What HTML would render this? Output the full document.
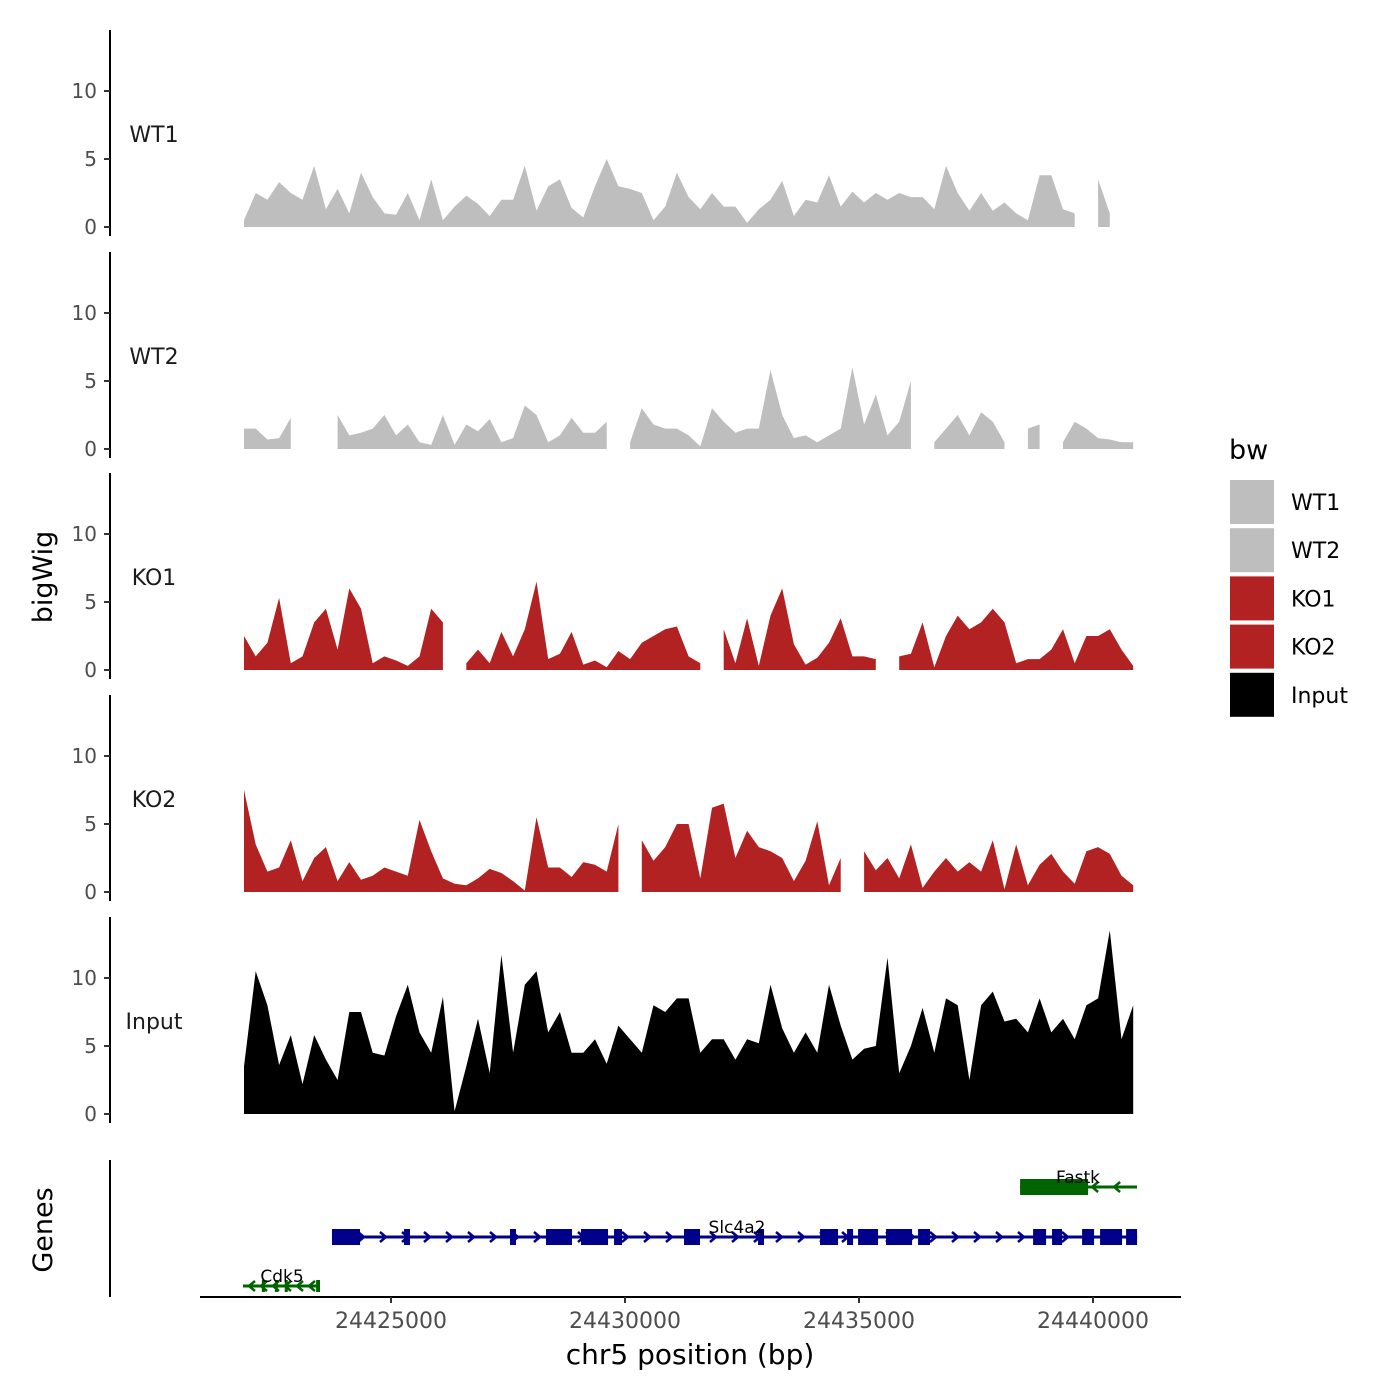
<!DOCTYPE html>
<html><head><meta charset="utf-8"><style>
html,body{margin:0;padding:0;background:#fff;}
svg{display:block;font-family:"DejaVu Sans","Liberation Sans",sans-serif;}
</style></head><body>
<svg id="chart" width="1400" height="1400" viewBox="0 0 1400 1400" xmlns="http://www.w3.org/2000/svg"></svg>
<script>
const binStart = 24421859;
const binSize = 250;
const trackNames = ["WT1","WT2","KO1","KO2","Input"];
const trackColors = ["#bebebe","#bebebe","#b22222","#b22222","#000000"];
const wt1 = [0.5,2.5,2.0,3.3,2.5,2.0,4.5,1.3,2.8,1.0,4.0,2.2,1.0,0.9,2.5,0.5,3.5,0.5,1.5,2.3,1.7,0.8,2.0,2.0,4.5,1.2,3.0,3.5,1.4,0.7,3.0,5.0,3.0,2.8,2.5,0.5,1.5,4.0,2.2,1.3,2.5,1.5,1.5,0.3,1.3,2.0,3.4,0.8,2.0,1.8,3.8,1.5,2.6,1.8,2.5,2.0,2.5,2.2,2.2,1.3,4.5,2.5,1.2,2.5,1.2,1.8,1.0,0.5,3.8,3.8,1.3,1.0,null,3.5,1.0,null,1.5];
const wt2 = [1.5,1.5,0.7,0.8,2.3,null,null,null,2.5,1.0,1.2,1.5,2.5,1.0,1.8,0.5,0.3,2.5,0.3,1.8,1.3,2.2,0.5,0.8,3.2,2.5,0.5,1.0,2.3,1.2,1.2,2.0,null,0.5,3.0,1.8,1.5,1.5,1.0,0.2,3.0,2.0,1.2,1.5,1.5,5.8,2.5,0.8,1.0,0.5,1.0,1.5,6.0,1.8,4.0,1.0,2.0,5.0,null,0.5,1.5,2.5,1.0,2.7,2.0,0.5,null,1.5,1.8,null,0.5,2.0,1.5,0.8,0.7,0.5,0.5];
const ko1 = [2.5,1.0,2.0,5.3,0.5,1.0,3.5,4.5,1.5,6.0,4.5,0.5,1.0,0.7,0.3,1.0,4.5,3.5,null,0.5,1.5,0.5,2.8,1.0,3.0,6.5,0.8,1.2,2.8,0.4,0.7,0.2,1.4,0.8,2.0,2.5,3.0,3.2,1.0,0.5,null,3.0,0.5,3.8,0.3,4.0,6.0,1.9,0.4,0.9,2.0,3.8,1.0,1.0,0.8,null,1.0,1.2,3.5,0.2,2.5,4.0,3.0,3.5,4.5,3.5,0.5,0.8,0.8,1.5,3.0,0.5,2.5,2.5,3.0,1.5,0.3];
const ko2 = [7.5,3.5,1.5,1.8,3.8,0.8,2.5,3.3,0.8,2.2,0.9,1.2,1.8,1.5,1.2,5.3,3.0,1.0,0.6,0.5,1.0,1.7,1.4,0.8,0.1,5.5,1.8,1.8,1.1,2.2,2.0,1.5,5.0,null,3.8,2.3,3.3,5.0,5.0,1.0,6.2,6.5,2.5,4.5,3.3,3.0,2.5,0.8,2.3,5.2,0.5,2.5,null,3.0,1.6,2.5,1.0,3.5,0.3,1.5,2.5,1.5,2.2,1.5,3.8,0.2,3.5,0.5,2.0,2.8,1.5,0.6,3.0,3.3,2.8,1.2,0.5];
const input = [3.5,10.5,8.0,3.6,5.8,2.2,5.8,4.0,2.5,7.5,7.5,4.5,4.3,7.2,9.5,6.0,4.5,8.6,0.2,3.5,7.0,3.0,11.7,4.5,9.5,10.5,6.0,7.5,4.5,4.5,5.5,3.7,6.5,5.5,4.5,8.0,7.5,8.5,8.5,4.5,5.5,5.5,4.0,5.5,5.2,9.5,6.3,4.5,6.0,4.5,9.5,6.5,4.0,4.8,5.0,11.5,3.0,5.0,7.8,4.5,8.5,8.0,2.5,8.0,9.0,6.8,7.0,6.0,8.5,6.0,7.0,5.5,8.0,8.5,13.5,5.5,8.0];
const trackValues = [wt1,wt2,ko1,ko2,input];
const yTicks = [0,5,10];
const xTicks = [24425000,24430000,24435000,24440000];
const geneNames = ["Fastk","Slc4a2","Cdk5"];
const geneStarts = [24438442,24423739,24421837];
const geneEnds = [24440942,24440942,24423483];
const geneStrands = [-1,1,-1];
const geneColors = ["#006400","#00008b","#006400"];
const fastkExons = [[24438442,24439895]];
const slcExons = [[24423739,24424338],[24425278,24425406],[24427543,24427671],[24428312,24428868],[24429060,24429637],[24429766,24429936],[24431261,24431603],[24432843,24432971],[24434168,24434552],[24434745,24434873],[24434980,24435407],[24435578,24436134],[24436262,24436518],[24438720,24438997],[24439125,24439339],[24439767,24440023],[24440151,24440621],[24440707,24440942]];
const cdkExons = [[24422240,24422300],[24422520,24422580],[24422730,24422790],[24423400,24423483]];
const geneExons = [fastkExons,slcExons,cdkExons];
const legendLabels = ["WT1","WT2","KO1","KO2","Input"];

const svg = document.getElementById('chart');
const NS = "http://www.w3.org/2000/svg";
function mk(tag, attrs, parent){const e=document.createElementNS(NS,tag);for(const k in attrs)e.setAttribute(k,attrs[k]);(parent||svg).appendChild(e);return e;}
function xScale(bp){return 391 + (bp-24425000)*0.0468;}
const baselines = [227,449,670,892,1114];
const ppu = 13.6;
function yScale(t,v){return baselines[t]-v*ppu;}

for(let t=0;t<5;t++){
  const g = mk('g',{});
  
  
  const ax = mk('line',{x1:110,x2:110,y1:baselines[t]-197,y2:baselines[t]+9,stroke:'#000','stroke-width':2},g);
  
  
  yTicks.forEach(v=>{
    const y=yScale(t,v);
    const tk=mk('line',{x1:104,x2:110,y1:y,y2:y,stroke:'#333','stroke-width':2},g);
    
    
    const tl=mk('text',{x:97,y:y+7,'text-anchor':'end','font-size':20,fill:'#4d4d4d'},g);
    tl.textContent=v;
    
    
  });
  const lab=mk('text',{x:154,y:baselines[t]-85,'text-anchor':'middle','font-size':22,fill:'#1a1a1a'},g);
  lab.textContent=trackNames[t];
  
  
  const vals=trackValues[t];
  let run=[];
  const flush=()=>{
    if(run.length>1){
      let d='M'+xScale(run[0][0])+','+baselines[t];
      run.forEach(p=>{d+=' L'+xScale(p[0]).toFixed(1)+','+yScale(t,p[1]).toFixed(1);});
      d+=' L'+xScale(run[run.length-1][0])+','+baselines[t]+' Z';
      const a=mk('path',{d:d,fill:trackColors[t]},g);
      
      
    }
    run=[];
  };
  vals.forEach((v,i)=>{ if(v===null){flush();} else run.push([binStart+i*binSize,v]); });
  flush();
}

const yt=mk('text',{x:0,y:0,transform:'translate(52,577) rotate(-90)','text-anchor':'middle','font-size':27,fill:'#000'});
yt.textContent='bigWig';



const gax=mk('line',{x1:110,x2:110,y1:1160,y2:1297,stroke:'#000','stroke-width':2});


const gt=mk('text',{x:0,y:0,transform:'translate(52,1230) rotate(-90)','text-anchor':'middle','font-size':27,fill:'#000'});
gt.textContent='Genes';


const geneY=[1187,1237,1286];
geneNames.forEach((n,i)=>{
  const g=mk('g',{});
  
  
  const y=geneY[i], c=geneColors[i];
  const x1=xScale(geneStarts[i]), x2=xScale(geneEnds[i]);
  const ln=mk('line',{x1:x1,x2:x2,y1:y,y2:y,stroke:c,'stroke-width':3},g);
  
  
  const step=i===2?12:22;
  for(let x=x1+8;x<x2-4;x+=step){
    const s=geneStrands[i];
    const ar=mk('polyline',{points:(x-4*s)+','+(y-5)+' '+(x+2*s)+','+y+' '+(x-4*s)+','+(y+5),fill:'none',stroke:c,'stroke-width':2.5},g);
    
    
  }
  geneExons[i].forEach(e=>{
    const h=i===2?12:16;
    const r=mk('rect',{x:xScale(e[0]),y:y-h/2,width:Math.max(3,xScale(e[1])-xScale(e[0])),height:h,fill:c},g);
    
    
  });
  const lx=i===0?1078:(i===1?737:282);
  const tl=mk('text',{x:lx,y:y-4,'text-anchor':'middle','font-size':17,fill:'#000'},g);
  tl.textContent=n;
  
  
});

const xa=mk('line',{x1:200,x2:1181,y1:1297,y2:1297,stroke:'#000','stroke-width':2});


xTicks.forEach(v=>{
  const x=xScale(v);
  const tk=mk('line',{x1:x,x2:x,y1:1297,y2:1303,stroke:'#333','stroke-width':2});
  
  
  const tl=mk('text',{x:x,y:1328,'text-anchor':'middle','font-size':22,fill:'#4d4d4d'});
  tl.textContent=v;
  
  
});
const xt=mk('text',{x:690,y:1364,'text-anchor':'middle','font-size':28,fill:'#000'});
xt.textContent='chr5 position (bp)';



const lg=mk('g',{});


const lt=mk('text',{x:1229,y:459,'font-size':27,fill:'#000'},lg);
lt.textContent='bw';


legendLabels.forEach((n,i)=>{
  const y=480+i*48.2;
  const r=mk('rect',{x:1230,y:y,width:44,height:44,fill:trackColors[i]},lg);
  
  
  const t=mk('text',{x:1291,y:y+30,'font-size':22,fill:'#000'},lg);
  t.textContent=n;
  
  
});
</script>
</body></html>
